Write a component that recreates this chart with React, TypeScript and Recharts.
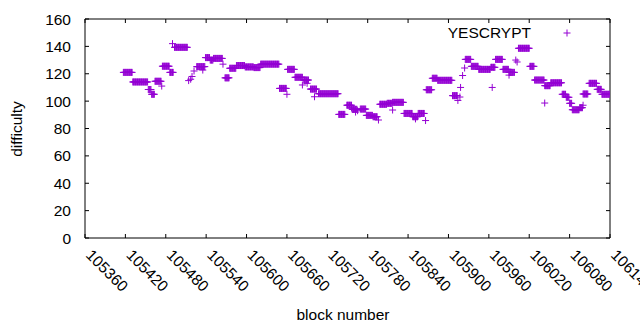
import React from 'react';
import { ScatterChart, Scatter, XAxis, YAxis } from 'recharts';

const SERIES_NAME = 'YESCRYPT';
const X_LABEL = 'block number';
const Y_LABEL = 'difficulty';
const X_TICKS = [105360, 105420, 105480, 105540, 105600, 105660, 105720, 105780, 105840, 105900, 105960, 106020, 106080, 106140];
const Y_TICKS = [0, 20, 40, 60, 80, 100, 120, 140, 160];

// runs of consecutive blocks with the same difficulty: [firstBlock, lastBlock, difficulty]
const RUNS: [number, number, number][] = [
  [105417, 105430, 121],
  [105431, 105453, 114],
  [105454, 105458, 108.5],
  [105459, 105463, 105],
  [105464, 105473, 114.5],
  [105475, 105485, 125.5],
  [105486, 105491, 121],
  [105493, 105512, 139.3],
  [105526, 105538, 125.2],
  [105539, 105545, 131.8],
  [105546, 105550, 130],
  [105551, 105564, 131.2],
  [105568, 105574, 117],
  [105575, 105584, 124],
  [105585, 105597, 126],
  [105598, 105610, 125],
  [105611, 105620, 124.5],
  [105621, 105648, 127],
  [105649, 105659, 109.3],
  [105661, 105671, 123.2],
  [105672, 105683, 117.4],
  [105685, 105692, 115.4],
  [105695, 105704, 108.8],
  [105707, 105736, 105.4],
  [105737, 105746, 90.3],
  [105749, 105756, 97],
  [105757, 105764, 94],
  [105769, 105777, 94.2],
  [105778, 105787, 89.6],
  [105788, 105794, 88.6],
  [105798, 105808, 97.7],
  [105809, 105816, 98.4],
  [105817, 105833, 99.1],
  [105834, 105846, 91],
  [105847, 105854, 88.6],
  [105855, 105864, 91],
  [105867, 105875, 108.3],
  [105876, 105883, 116.7],
  [105884, 105905, 115.2],
  [105906, 105913, 104],
  [105925, 105933, 130.5],
  [105934, 105944, 125.4],
  [105945, 105962, 123.2],
  [105963, 105969, 124.7],
  [105970, 105980, 130.5],
  [105981, 105989, 123.2],
  [105990, 105998, 121],
  [106004, 106020, 138.6],
  [106021, 106027, 125.4],
  [106028, 106042, 115.4],
  [106043, 106051, 111.3],
  [106052, 106068, 113.4],
  [106069, 106074, 105],
  [106075, 106079, 102.8],
  [106080, 106083, 98.4],
  [106084, 106094, 93.7],
  [106095, 106099, 95.2],
  [106100, 106107, 105.2],
  [106109, 106120, 113],
  [106121, 106127, 108.6],
  [106128, 106139, 105],
];

// isolated blocks: [block, difficulty]
const SINGLE_POINTS: [number, number][] = [
  [105474, 111],
  [105490, 142],
  [105514, 115],
  [105517, 116],
  [105519, 118],
  [105522, 122],
  [105535, 122.7],
  [105565, 127],
  [105660, 105],
  [105683, 111.8],
  [105690, 113],
  [105701, 103.2],
  [105756, 95],
  [105762, 92],
  [105765, 93],
  [105796, 86.2],
  [105817, 93.5],
  [105851, 87],
  [105866, 85.8],
  [105914, 100.5],
  [105917, 103],
  [105918, 110],
  [105921, 118.7],
  [105924, 124.2],
  [105965, 110],
  [105990, 119],
  [106000, 130],
  [106002, 128.6],
  [106043, 98.6],
  [106100, 97],
];

const COLOR = '#9400D3';
const FONT = '"Liberation Sans", Arial, sans-serif';
const FS = 15.5;

const data: { block: number; difficulty: number }[] = [];
for (const [s, e, v] of RUNS) {
  for (let b = s; b <= e; b++) data.push({ block: b, difficulty: v });
}
for (const [b, v] of SINGLE_POINTS) data.push({ block: b, difficulty: v });

const Cross = (p: any) => {
  const { cx, cy } = p;
  if (cx == null || cy == null) return null;
  return (
    <path
      d={`M${cx - 3.5},${cy}H${cx + 3.5}M${cx},${cy - 3.5}V${cy + 3.5}`}
      stroke={COLOR}
      strokeWidth={1}
      fill="none"
    />
  );
};

const BottomTick = (p: any) => {
  const { x, y, payload } = p;
  const ty = y + 18;
  return (
    <g>
      <line x1={x} y1={y} x2={x} y2={y - 4} stroke="#000" />
      <text
        x={x}
        y={ty}
        transform={`rotate(45 ${x} ${ty})`}
        textAnchor="start"
        fontFamily={FONT}
        fontSize={FS}
        fill="#000"
      >
        {payload.value}
      </text>
    </g>
  );
};

const TopTick = (p: any) => {
  const { x, y } = p;
  return <line x1={x} y1={y} x2={x} y2={y + 4} stroke="#000" />;
};

const LeftTick = (p: any) => {
  const { x, y, payload } = p;
  return (
    <g>
      <line x1={x} y1={y} x2={x + 4} y2={y} stroke="#000" />
      <text
        x={x - 14}
        y={y}
        dy="0.36em"
        textAnchor="end"
        fontFamily={FONT}
        fontSize={FS}
        fill="#000"
      >
        {payload.value}
      </text>
    </g>
  );
};

const RightTick = (p: any) => {
  const { x, y } = p;
  return <line x1={x} y1={y} x2={x - 4} y2={y} stroke="#000" />;
};

export default function App() {
  return (
    <div style={{ position: 'absolute', left: 0, top: 0, width: 640, height: 330, background: '#fff' }}>
      <ScatterChart width={640} height={330} margin={{ top: 18, right: 29, bottom: 0, left: 0 }}>
        <XAxis
          dataKey="block"
          type="number"
          domain={[105360, 106140]}
          ticks={X_TICKS}
          interval={0}
          height={92}
          tickSize={0}
          tickMargin={0}
          tickLine={false}
          axisLine={{ stroke: '#000' }}
          tick={<BottomTick />}
          allowDataOverflow
        />
        <XAxis
          xAxisId="top"
          orientation="top"
          dataKey="block"
          type="number"
          domain={[105360, 106140]}
          ticks={X_TICKS}
          interval={0}
          height={1}
          tickSize={0}
          tickMargin={0}
          tickLine={false}
          axisLine={{ stroke: '#000' }}
          tick={<TopTick />}
          allowDataOverflow
        />
        <YAxis
          dataKey="difficulty"
          type="number"
          domain={[0, 160]}
          ticks={Y_TICKS}
          interval={0}
          width={85}
          tickSize={0}
          tickMargin={0}
          tickLine={false}
          axisLine={{ stroke: '#000' }}
          tick={<LeftTick />}
          allowDataOverflow
        />
        <YAxis
          yAxisId="right"
          orientation="right"
          dataKey="difficulty"
          type="number"
          domain={[0, 160]}
          ticks={Y_TICKS}
          interval={0}
          width={1}
          tickSize={0}
          tickMargin={0}
          tickLine={false}
          axisLine={{ stroke: '#000' }}
          tick={<RightTick />}
          allowDataOverflow
        />
        <Scatter data={data} xAxisId="top" yAxisId="right" isAnimationActive={false} shape={() => null} legendType="none" />
        <Scatter name={SERIES_NAME} data={data} dataKey="difficulty" isAnimationActive={false} shape={<Cross />} />
      </ScatterChart>
      <svg
        width={640}
        height={330}
        style={{ position: 'absolute', left: 0, top: 0, pointerEvents: 'none' }}
      >
        <text
          x={22}
          y={129}
          transform="rotate(-90 22 129)"
          textAnchor="middle"
          fontFamily={FONT}
          fontSize={FS}
          fill="#000"
        >
          {Y_LABEL}
        </text>
        <text x={343} y={320} textAnchor="middle" fontFamily={FONT} fontSize={FS} fill="#000">
          {X_LABEL}
        </text>
        <text x={531} y={38} textAnchor="end" fontFamily={FONT} fontSize={FS} fill="#000">
          {SERIES_NAME}
        </text>
        <path d="M563.5,33H570.5M567,29.5V36.5" stroke={COLOR} strokeWidth={1} fill="none" />
      </svg>
    </div>
  );
}
